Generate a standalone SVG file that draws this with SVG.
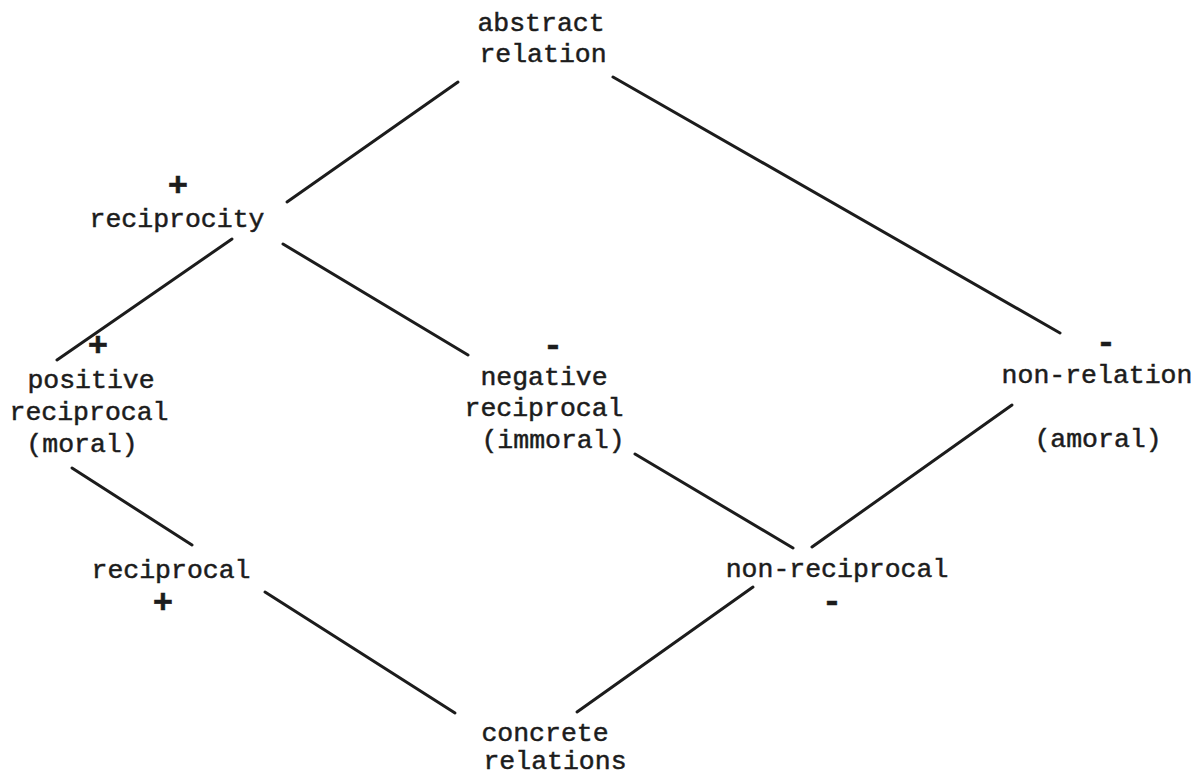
<svg xmlns="http://www.w3.org/2000/svg" width="1199" height="776" viewBox="0 0 1199 776">
  <style>
    text { font-family: "Liberation Mono", "DejaVu Sans Mono", monospace; font-size: 26.5px; fill: #1c1c1c; stroke: #1c1c1c; stroke-width: 0.5; }
    .c { text-anchor: middle; }
    .sign { text-anchor: middle; font-weight: bold; font-size: 34px; }
    #connectors line { stroke: #1c1c1c; stroke-width: 3; stroke-linecap: round; }
  </style>
  <rect width="1199" height="776" fill="#ffffff"/>

  <g id="connectors">
    <line x1="458" y1="82" x2="287" y2="202"/>
    <line x1="613" y1="77" x2="1060" y2="333"/>
    <line x1="232" y1="239" x2="57" y2="360"/>
    <line x1="283" y1="244" x2="468" y2="355"/>
    <line x1="72" y1="468" x2="192" y2="545"/>
    <line x1="265" y1="592" x2="455" y2="713"/>
    <line x1="635" y1="454" x2="793" y2="548"/>
    <line x1="1012" y1="405" x2="812" y2="547"/>
    <line x1="753" y1="587" x2="577" y2="712"/>
  </g>

  <g id="abstract-relation">
    <text x="541" y="31" class="c">abstract</text>
    <text x="543" y="62" class="c">relation</text>
  </g>

  <g id="reciprocity">
    <text x="178" y="196" class="sign">+</text>
    <text x="177" y="227" class="c">reciprocity</text>
  </g>

  <g id="positive-reciprocal">
    <text x="98" y="356" class="sign">+</text>
    <text x="91" y="388" class="c">positive</text>
    <text x="89" y="420" class="c">reciprocal</text>
    <text x="82" y="452" class="c">(moral)</text>
  </g>

  <g id="negative-reciprocal">
    <text x="553" y="356" class="sign">-</text>
    <text x="544" y="385" class="c">negative</text>
    <text x="544" y="416" class="c">reciprocal</text>
    <text x="553" y="448" class="c">(immoral)</text>
  </g>

  <g id="non-relation">
    <text x="1106" y="353" class="sign">-</text>
    <text x="1097" y="383" class="c">non-relation</text>
    <text x="1098" y="447" class="c">(amoral)</text>
  </g>

  <g id="reciprocal">
    <text x="171" y="578" class="c">reciprocal</text>
    <text x="163" y="613" class="sign">+</text>
  </g>

  <g id="non-reciprocal">
    <text x="837" y="577" class="c">non-reciprocal</text>
    <text x="832" y="612" class="sign">-</text>
  </g>

  <g id="concrete-relations">
    <text x="545" y="741" class="c">concrete</text>
    <text x="555" y="769" class="c">relations</text>
  </g>
</svg>
